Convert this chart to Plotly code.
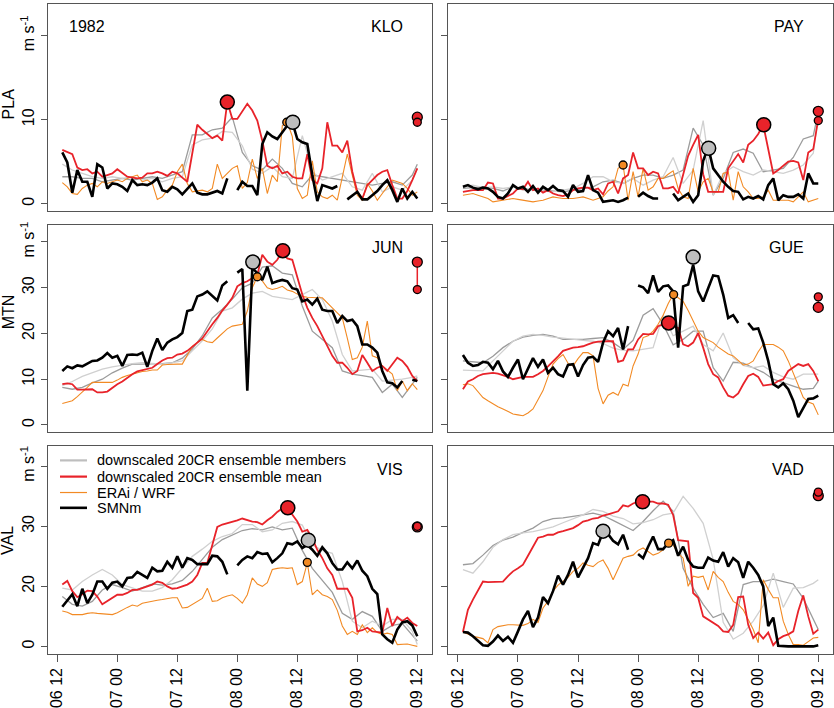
import plotly.graph_objects as go

# ── Time axis: hours after 06 12 (data run from 06 13 to 09 12) ───────────────
HOURS = list(range(1, 73))
MEMBER_HOURS = [1, 3, 5, 7, 9, 11, 13, 15, 17, 19, 21, 23, 25, 27, 29, 31, 33, 35,
                37, 39, 41, 43, 45, 47, 49, 51, 53, 55, 57, 59, 61, 63, 65, 67, 69, 71, 72]
TICK_HOURS = [0, 12, 24, 36, 48, 60, 72]
TICK_LABELS = ["06 12", "07 00", "07 12", "08 00", "08 12", "09 00", "09 12"]

ROW_NAMES = ["PLA", "MTN", "VAL"]
ROW_TICKS = [[0, 10, 20], [0, 10, 20, 30, 40], [0, 10, 20, 30]]
ROW_TICKTEXT = [["0", "10", "m s<sup>-1</sup>"],
                ["0", "10", "20", "30", "m s<sup>-1</sup>"],
                ["0", "20", "30", "m s<sup>-1</sup>"]]
ROW_RANGES = [[-0.9, 23.8], [-1.6, 43.7], [-1.2, 33.3]]

# ── KLO ───────────────────────────────────────────────────────────────────────
KLO_SMN = [6.1, 4.9, 1.3, 4.0, 2.6, 2.6, 0.8, 4.7, 4.3, 1.8,
           2.4, 2.3, 2.0, 1.5, 2.8, 2.2, 2.3, 2.2, 2.5, 3.0,
           1.6, 1.4, 2.0, 1.7, 1.1, 1.8, 2.4, 1.3, 1.1, 1.1,
           1.3, 1.5, 1.2, 3.0, None, 1.6, 2.6, 2.1, 2.1, 1.0,
           7.1, 8.5, 8.0, 7.7, 8.5, 9.3, 9.7, 7.7, 7.3, 7.1,
           3.4, 0.3, 2.2, 2.0, 1.8, 2.1, None, 0.5, 1.0, 1.4,
           0.5, 0.5, 1.0, 1.5, 2.2, 2.8, 1.6, 0.2, 1.8, 0.6,
           1.4, 0.6]
KLO_MEAN = [6.4, 6.1, 5.9, 4.3, 4.0, 4.1, 3.6, 3.8, 3.2, 3.4,
            3.6, 4.1, 3.6, 3.2, 3.1, 3.0, 3.1, 3.6, 3.6, 3.8,
            3.6, 3.3, 3.8, 3.6, 3.1, 2.6, 6.0, 9.4, 8.8, 8.3,
            7.8, 8.1, 7.5, 12.1, 10.1, 10.1, 11.0, 11.9, 11.1, 9.9,
            7.5, 4.5, 4.2, 4.5, 3.6, 3.8, 3.2, 3.0, 3.0, 5.9,
            2.8, 2.4, 4.2, 9.7, 6.9, 6.9, 6.1, 7.5, 3.8, 1.4,
            0.6, 2.2, 2.8, 3.4, 3.8, 4.0, 2.2, 0.6, 0.6, 1.5,
            2.8, 4.2]
KLO_ERA = [2.5, 2.0, 1.2, 1.1, 1.8, 2.2, 2.4, 2.0, 2.6, 2.4,
           2.6, 2.8, 2.6, 3.0, 3.2, 3.4, 2.6, 2.8, 2.4, 0.5,
           0.8, 1.6, 2.2, 3.8, 4.7, 2.4, 1.4, 1.5, 1.6, 1.4,
           1.8, 4.7, 3.0, 3.6, 4.2, 4.5, 1.8, 2.5, 5.3, 3.0,
           4.2, 1.2, 3.4, 2.6, 9.3, 9.7, 8.0, 1.8, 0.6, 1.0,
           5.1, 1.4, 0.8, 0.6, 1.0, 0.4, 3.0, 5.9, 3.4, 1.0,
           0.4, 2.4, 1.5, 0.4, 1.2, 2.0, 2.8, 2.6, 2.4, 1.8,
           1.0, 1.4]
KLO_MEM1 = [3.2, 3.2, 3.0, 3.0, 2.6, 2.8, 3.0, 2.8, 3.0, 3.2, 3.0, 3.4, 3.8, 8.2, 8.2, 8.8, 9.0,
            10.3, 6.1, 4.5, 4.0, 5.3, 4.2, 2.4, 2.0, 3.4, 3.2, 3.0, 2.8, 2.6, 2.4, 2.2, 2.4,
            2.6, 2.2, 3.4, 4.7]
KLO_MEM2 = [4.7, 4.0, 3.6, 3.2, 3.0, 3.2, 3.0, 3.2, 2.8, 3.0, 2.6, 3.0, 3.2, 7.0, 7.6, 7.8, 8.6,
            8.5, 6.9, 4.1, 3.6, 4.4, 3.2, 3.0, 8.1, 3.8, 2.8, 3.2, 3.6, 2.0, 1.6, 3.6, 1.4,
            2.0, 1.6, 2.8, 4.2]
KLO_MEAN_MAX = (34, 12.1)
KLO_SMN_MAX = (47.1, 9.7)
KLO_ERA_MAX = (45.9, 9.7)
KLO_END = [10.3, 9.7]

# ── PAY ───────────────────────────────────────────────────────────────────────
PAY_SMN = [2.0, 2.2, 1.9, 1.7, 1.9, 1.8, 1.4, 0.8, 0.6, 1.2,
           2.2, 1.8, 2.0, 1.4, 2.1, 1.3, 2.0, 1.6, 2.1, 1.6,
           1.5, 0.8, 2.2, 1.4, 1.5, 3.4, 1.6, 1.3, 0.2, 0.3,
           0.4, 0.2, 0.4, 0.7, None, 0.8, 1.3, 0.9, 0.6, 0.6,
           None, None, 1.2, 0.4, 0.8, 1.2, 0.2, 1.0, 5.1, 6.7,
           4.2, 3.4, 2.6, 2.0, 1.5, 1.4, 0.5, 0.8, 0.6, 0.9,
           0.5, 2.2, 3.0, 0.4, 1.0, 0.8, 0.8, 1.1, 0.6, 3.6,
           2.4, 2.4]
PAY_MEAN = [1.4, 1.5, 1.6, 1.6, 1.6, 2.5, 2.4, 0.6, 0.6, 0.9,
            1.2, 1.8, 1.7, 2.6, 1.6, 1.8, 1.3, 1.6, 1.2, 1.0,
            0.9, 1.1, 1.6, 1.8, 1.9, 1.9, 1.6, 1.8, 1.1, 2.4,
            2.6, 1.2, 3.0, 3.4, 6.1, 4.2, 4.2, 3.4, 3.8, 3.6,
            1.8, 1.8, 2.0, 1.2, 3.5, 5.7, 7.0, 8.2, 3.5, 1.4,
            1.4, 1.4, 1.4, 4.2, 5.1, 5.9, 4.9, 7.0, 7.5, 8.3,
            9.4, 6.5, 3.6, 4.0, 4.5, 5.0, 5.1, 4.9, 2.8, 6.1,
            6.5, 10.1]
PAY_ERA = [1.0, 1.1, 1.2, 1.0, 0.8, 0.6, 0.2, 0.3, 0.4, 0.5,
           0.6, 0.5, 0.4, 0.3, 0.2, 0.3, 0.4, 0.6, 0.8, 0.7,
           0.6, 0.6, 0.6, 0.7, 0.8, 0.6, 0.4, 0.6, 0.8, 1.5,
           2.0, 4.2, 4.6, 0.4, 3.8, 0.8, 4.2, 1.6, 2.0, 3.0,
           3.0, 3.5, 3.9, 1.8, 0.8, 0.6, 4.2, 1.4, 2.6, 3.0,
           1.4, 1.4, 3.6, 3.8, 0.4, 3.8, 2.0, 1.4, 0.6, 0.6,
           0.8, 1.6, 0.4, 0.4, 0.4, 0.4, 0.2, 0.8, 1.4, 0.2,
           0.4, 0.6]
PAY_MEM1 = [1.8, 1.9, 2.0, 1.8, 1.5, 2.0, 1.8, 1.6, 1.6, 1.5, 1.4, 1.6, 1.8, 2.0, 2.6, 2.8, 2.4,
            3.0, 3.4, 3.4, 3.0, 3.4, 4.0, 9.0, 7.0, 1.0, 3.0, 6.1, 6.5, 6.0, 3.8, 4.0, 4.2,
            5.5, 7.7, 8.1, 10.9]
PAY_MEM2 = [2.0, 2.2, 1.9, 2.0, 1.8, 2.0, 1.6, 1.8, 1.5, 1.4, 1.6, 1.8, 2.4, 3.2, 3.2, 2.6, 2.4,
            3.0, 2.2, 2.8, 3.2, 5.5, 2.4, 4.0, 9.9, 1.0, 3.6, 4.4, 3.8, 3.4, 4.0, 3.8, 3.6,
            4.0, 4.6, 6.0, 10.5]
PAY_MEAN_MAX = (61.1, 9.4)
PAY_SMN_MAX = (50.1, 6.6)
PAY_ERA_MAX = (33, 4.6)
PAY_END = [11.0, 9.9]

# ── JUN ───────────────────────────────────────────────────────────────────────
JUN_SMN = [11.8, 12.8, 12.4, 13.0, 12.8, 13.4, 14.0, 14.1, 14.7, 15.7,
           14.7, 15.1, 12.9, 15.3, 15.4, 15.3, 15.8, 12.7, 16.2, 18.9,
           16.4, 18.0, 18.7, 19.2, 20.1, 24.9, 25.2, 28.1, 28.5, 29.2,
           28.1, 27.2, 30.5, 31.4, None, 33.3, 34.1, 7.5, 34.3, 33.2,
           31.7, 34.6, 31.0, 31.4, 31.7, 31.4, 29.9, 29.6, 27.0, 27.4,
           26.3, 27.6, 25.2, 24.9, 24.9, 22.3, 23.8, 22.7, 23.0, 21.6,
           17.6, 17.6, 16.9, 15.8, 11.8, 9.3, 9.1, 8.2, 9.6, None,
           9.9, 9.6]
JUN_MEAN = [8.9, 9.1, 8.9, 7.7, 7.7, 7.7, 7.8, 7.1, 7.1, 7.3,
            8.2, 8.9, 9.5, 10.4, 11.1, 11.7, 12.0, 12.2, 12.5, 13.3,
            14.1, 14.6, 14.7, 15.4, 15.6, 16.2, 17.2, 18.0, 18.9, 20.5,
            22.0, 23.4, 25.0, 26.3, 27.8, 30.3, 31.0, 31.4, 32.1, 32.8,
            37.2, 35.7, 35.0, 36.1, 38.0, 36.4, 36.1, 32.1, 28.5, 25.6,
            23.4, 21.6, 19.4, 17.2, 15.1, 13.6, 13.6, 12.5, 11.1, 11.8,
            15.3, 13.6, 11.8, 12.5, 12.9, 11.8, 13.3, 14.7, 14.0, 12.7,
            10.7, 9.6]
JUN_ERA = [4.7, 5.0, 5.3, 6.2, 7.1, 8.2, 9.3, 9.3, 9.3, 9.3,
           9.3, 9.8, 10.4, 10.8, 11.1, 11.4, 11.7, 11.8, 12.0, 12.0,
           13.1, 13.2, 13.3, 13.3, 13.3, 15.3, 17.2, 18.0, 18.7, 18.2,
           18.0, 19.0, 20.1, 21.0, 21.6, 21.8, 22.0, 24.9, 30.0, 32.4,
           31.5, 30.0, 29.6, 29.9, 30.3, 29.5, 29.2, 28.6, 28.1, 27.9,
           27.8, 27.8, 27.8, 26.8, 25.6, 24.5, 23.4, 19.0, 14.3, 14.7,
           17.0, 22.7, 15.1, 14.7, 12.9, 12.0, 11.1, 7.5, 9.6, 7.5,
           9.0, 7.7]
JUN_MEM1 = [8.2, 7.8, 8.2, 9.2, 10.0, 11.4, 12.4, 13.3, 13.3, 13.3, 13.4, 13.6, 14.6, 16.6, 19.5,
            23.4, 25.3, 27.5, 30.0, 31.0, 34.5, 34.8, 33.2, 32.8, 26.0, 20.5, 18.7, 16.9, 11.8,
            11.1, 10.8, 10.4, 7.1, 8.9, 6.0, 8.9, 10.4]
JUN_MEM2 = [8.6, 9.5, 10.6, 11.4, 12.2, 12.7, 13.1, 13.4, 13.6, 13.5, 13.3, 13.6, 14.0, 16.2, 18.4,
            21.0, 24.9, 25.6, 27.5, 28.8, 29.2, 28.1, 27.8, 27.4, 28.5, 29.6, 27.4, 22.7, 15.4,
            11.8, 12.0, 12.2, 9.6, 9.8, 10.0, 10.4, 10.7]
JUN_MEAN_MAX = (45.1, 38.1)
JUN_SMN_MAX = (39.1, 35.6)
JUN_ERA_MAX = (40, 32.4)
JUN_END = [35.6, 29.6]

# ── GUE ───────────────────────────────────────────────────────────────────────
GUE_SMN = [15.3, 13.6, 12.9, 13.1, 13.8, 13.6, 12.2, 14.0, 11.7, 10.5,
           12.5, 14.3, 10.0, 12.5, 14.6, 12.7, 14.3, 11.4, 12.5, 11.1,
           10.6, 13.1, 13.3, 10.6, 13.1, 14.7, 14.9, 13.8, 18.0, 20.5,
           19.4, 21.2, 16.5, 21.6, None, 30.5, 30.1, 28.8, 32.7, 29.1,
           30.3, 30.5, 29.2, 16.9, 30.3, 30.7, 35.0, 29.2, 27.0, 29.9,
           32.7, 32.5, 28.5, 23.4, 24.0, 22.3, None, 22.3, 20.9, 21.1,
           18.0, 14.0, 8.9, 8.2, 9.1, 7.8, 5.3, 1.7, 3.7, 5.7,
           5.8, 6.4]
GUE_MEAN = [7.8, 9.5, 10.0, 10.7, 11.1, 11.3, 11.4, 11.2, 10.9, 10.5,
            10.0, 10.2, 10.5, 10.5, 10.5, 11.1, 11.8, 12.8, 13.8, 15.0,
            16.2, 16.6, 16.9, 17.0, 17.2, 17.6, 18.0, 18.2, 18.3, 18.3,
            18.3, 13.8, 14.1, 16.5, 16.5, 18.7, 19.9, 19.8, 19.9, 21.6,
            22.0, 22.3, 21.6, 21.2, 17.6, 17.2, 18.0, 20.1, 16.9, 13.3,
            11.1, 10.4, 8.2, 6.4, 6.0, 6.9, 8.9, 10.7, 11.2, 10.5,
            8.6, 8.8, 8.9, 9.6, 10.0, 11.8, 12.5, 13.3, 12.9, 13.3,
            11.8, 9.6]
GUE_ERA = [8.8, 9.0, 8.6, 7.3, 6.0, 5.3, 4.6, 4.0, 3.5, 3.0,
           2.4, 2.2, 2.0, 2.6, 3.5, 5.5, 7.5, 10.5, 13.3, 14.5,
           15.4, 13.5, 12.9, 14.5, 15.8, 15.8, 15.1, 8.0, 4.6, 6.5,
           7.1, 6.5, 8.9, 8.5, 12.9, 15.5, 19.1, 19.5, 20.5, 22.0,
           24.0, 26.5, 28.5, 27.8, 27.0, 25.0, 22.7, 20.5, 19.1, 18.5,
           18.0, 17.0, 16.2, 15.5, 15.1, 14.0, 13.1, 13.3, 14.0, 16.0,
           17.6, 17.6, 17.6, 17.0, 16.2, 14.0, 11.4, 8.5, 6.0, 5.0,
           4.6, 2.2]
GUE_MEM1 = [14.0, 13.8, 13.6, 15.0, 16.9, 18.3, 19.2, 19.6, 19.8, 19.4, 18.7, 18.7, 18.7, 18.9,
            19.1, 18.0, 16.5, 18.5, 24.0, 25.4, 22.0, 17.5, 18.7, 20.5, 20.5, 12.5, 9.6, 13.7,
            13.5, 12.5, 11.5, 10.0, 9.2, 8.5, 7.8, 8.0, 9.6]
GUE_MEM2 = [12.0, 11.9, 11.8, 14.0, 16.2, 18.3, 19.4, 19.8, 19.6, 19.2, 19.0, 18.7, 18.5, 18.3,
            17.8, 16.8, 16.3, 16.2, 16.5, 16.9, 24.0, 19.5, 20.5, 21.6, 17.6, 16.2, 20.1, 14.7,
            13.0, 12.5, 12.9, 11.5, 10.5, 10.0, 11.1, 11.1, 11.1]
GUE_MEAN_MAX = (42.1, 22.3)
GUE_SMN_MAX = (47, 36.7)
GUE_ERA_MAX = (43.1, 28.5)
GUE_END = [25.7, 28.0]

# ── VIS ───────────────────────────────────────────────────────────────────────
VIS_SMN = [6.6, 7.6, 8.7, 6.7, 9.6, 7.2, 8.6, 10.8, 10.8, 9.6,
           10.6, 10.8, 10.0, 11.4, 11.5, 12.4, 11.9, 11.4, 13.1, 12.5,
           12.6, 14.1, 13.1, 15.0, 13.1, 14.7, 14.4, 13.7, 13.7, 13.7,
           15.1, 15.0, 14.1, 12.0, None, 13.5, 14.4, 15.0, 14.7, 15.7,
           15.4, 15.5, 14.0, 14.7, 15.5, 17.2, 17.0, 17.5, 16.4, 16.9,
           16.1, 15.1, 16.5, 15.5, 13.9, 12.8, 12.8, 14.0, 13.0, 14.3,
           12.6, 11.7, 9.6, 8.7, 2.0, 1.2, 0.6, 2.8, 4.0, 4.2,
           3.5, 1.7]
VIS_MEAN = [10.3, 10.9, 9.2, 8.2, 8.7, 9.3, 9.2, 8.3, 7.0, 7.5,
            8.1, 8.6, 8.6, 8.9, 9.4, 9.4, 9.7, 10.0, 10.3, 10.8,
            10.6, 10.0, 9.6, 9.7, 10.0, 10.3, 10.8, 11.9, 13.9, 13.9,
            16.9, 19.9, 20.3, 20.5, 20.8, 21.0, 21.3, 21.0, 20.8, 20.7,
            20.3, 21.0, 21.6, 22.4, 23.0, 23.1, 21.9, 20.8, 19.1, 19.4,
            18.0, 16.1, 14.7, 13.0, 11.9, 9.6, 9.6, 9.6, 8.1, 2.5,
            2.7, 3.1, 2.5, 2.4, 2.3, 6.4, 3.4, 4.9, 4.2, 4.8,
            3.9, 3.4]
VIS_ERA = [5.9, 5.7, 5.3, 5.3, 5.3, 5.5, 5.6, 5.5, 5.4, 5.3,
           5.3, 5.6, 6.1, 6.5, 6.9, 6.7, 7.2, 7.4, 7.5, 7.7,
           7.8, 8.0, 8.1, 8.1, 6.4, 6.5, 7.0, 7.6, 8.0, 9.7,
           7.5, 7.6, 8.1, 8.4, 8.6, 8.0, 7.2, 8.6, 11.4, 10.4,
           10.0, 10.6, 12.8, 13.0, 13.1, 13.0, 13.1, 10.3, 10.8, 13.9,
           8.6, 9.4, 8.6, 8.3, 7.8, 6.0, 3.4, 2.0, 2.5, 2.0,
           3.6, 2.3, 3.1, 2.3, 2.0, 2.2, 2.0, 0.3, 0.3, 0.4,
           0.2, 0.0]
VIS_MEM1 = [8.3, 7.0, 6.7, 7.5, 9.4, 10.3, 9.8, 9.2, 9.8, 10.4, 10.2, 10.4, 11.0, 12.5, 14.5,
            16.5, 17.8, 18.6, 19.3, 19.6, 19.4, 19.9, 19.4, 19.7, 16.0, 13.0, 11.0, 9.0, 5.5,
            4.5, 5.8, 5.0, 2.5, 3.5, 3.8, 1.8, 0.9]
VIS_MEM2 = [9.7, 9.4, 10.8, 11.9, 12.8, 11.9, 10.3, 9.7, 9.2, 9.2, 9.8, 11.1, 13.0, 15.0, 16.2,
            17.5, 18.3, 18.8, 20.3, 20.3, 19.1, 19.4, 20.5, 20.8, 20.2, 16.9, 16.0, 15.5, 10.8,
            4.2, 3.1, 4.2, 3.4, 4.5, 4.5, 2.5, 0.3]
VIS_MEAN_MAX = (46.1, 23.1)
VIS_SMN_MAX = (50.2, 17.7)
VIS_ERA_MAX = (50, 14.0)
VIS_END = [19.9, 20.0]

# ── VAD ───────────────────────────────────────────────────────────────────────
VAD_SMN = [2.4, 2.3, 1.7, 0.9, 0.2, 0.1, 0.8, 1.8, 0.9, 1.6,
           0.6, 2.5, 4.5, 5.9, 3.2, 4.8, 8.2, 7.2, 9.2, 11.8,
           10.3, 11.9, 14.1, 11.5, 13.0, 14.7, 17.2, 16.9, 19.1, 18.7,
           17.6, 17.0, 18.6, 16.1, None, 15.4, 14.7, 16.6, 18.3, 16.2,
           16.2, 17.2, 17.7, 15.1, 16.6, 14.4, 13.3, 13.1, 13.1, 14.8,
           14.3, 14.1, 15.7, 13.3, 14.7, 14.0, 11.4, 14.1, 13.1, 11.9,
           10.0, 3.4, 4.8, 0.1, 0.0, 0.0, 0.0, 0.0, 0.0, 0.0,
           0.0, 0.2]
VAD_MEAN = [2.4, 6.1, 7.8, 9.2, 10.8, 10.7, 10.7, 10.7, 10.8, 11.7,
            12.5, 13.0, 13.6, 15.1, 16.6, 18.1, 18.3, 18.6, 18.6, 19.0,
            19.2, 19.4, 19.7, 20.2, 20.8, 21.0, 21.3, 21.4, 21.8, 22.0,
            22.3, 22.5, 23.5, 23.3, 23.8, 24.1, 24.1, 24.1, 24.1, 23.8,
            23.8, 23.6, 21.9, 17.7, 17.6, 17.5, 8.9, 8.1, 5.0, 4.5,
            3.9, 3.4, 2.5, 2.4, 3.6, 8.2, 8.3, 3.6, 1.4, 2.3,
            1.3, 2.3, 0.2, 1.2, 1.7, 2.0, 2.5, 5.9, 8.5, 5.0,
            2.1, 2.8]
VAD_ERA = [2.4, 2.0, 1.7, 1.5, 1.3, 0.6, 2.8, 3.3, 3.5, 3.6,
           3.6, 3.6, 3.5, 3.8, 4.5, 4.0, 6.4, 7.5, 9.2, 10.2,
           10.8, 11.5, 12.5, 13.0, 13.9, 13.5, 13.3, 14.0, 14.4, 13.0,
           11.1, 13.0, 14.7, 15.0, 15.2, 16.0, 16.4, 15.8, 15.2, 15.5,
           16.1, 17.2, 16.9, 15.5, 14.7, 10.0, 11.7, 11.5, 11.7, 9.4,
           12.5, 11.5, 10.8, 9.0, 7.5, 7.0, 6.1, 4.5, 2.8, 0.6,
           11.1, 9.5, 8.1, 8.1, 4.2, 2.0, 0.3, 0.3, 0.2, 0.8,
           1.4, 1.5]
VAD_MEM1 = [13.6, 13.8, 15.2, 16.8, 17.7, 18.2, 19.0, 19.7, 20.8, 21.3, 21.4, 21.6, 21.9, 22.2,
            21.8, 21.0, 20.2, 19.3, 20.8, 22.6, 24.2, 22.5, 13.0, 9.7, 7.0, 4.8, 5.5, 2.5,
            10.3, 10.8, 10.8, 11.2, 10.8, 10.4, 8.0, 4.5, 2.8]
VAD_MEM2 = [12.8, 12.2, 14.1, 16.5, 17.8, 18.6, 18.9, 19.1, 19.5, 19.9, 20.6, 21.3, 21.9, 22.8,
            22.5, 21.7, 21.3, 20.4, 20.6, 21.1, 21.9, 22.2, 25.0, 23.0, 20.5, 14.5, 4.0, 1.2,
            2.2, 4.2, 6.8, 12.2, 6.5, 9.7, 9.8, 10.5, 11.1]
VAD_MEAN_MAX = (36.9, 24.1)
VAD_SMN_MAX = (29, 19.2)
VAD_ERA_MAX = (42.1, 17.2)
VAD_END = [25.1, 25.7]

PANELS = [
    ("KLO", KLO_MEM1, KLO_MEM2, KLO_ERA, KLO_MEAN, KLO_SMN, KLO_MEAN_MAX, KLO_SMN_MAX, KLO_ERA_MAX, KLO_END),
    ("PAY", PAY_MEM1, PAY_MEM2, PAY_ERA, PAY_MEAN, PAY_SMN, PAY_MEAN_MAX, PAY_SMN_MAX, PAY_ERA_MAX, PAY_END),
    ("JUN", JUN_MEM1, JUN_MEM2, JUN_ERA, JUN_MEAN, JUN_SMN, JUN_MEAN_MAX, JUN_SMN_MAX, JUN_ERA_MAX, JUN_END),
    ("GUE", GUE_MEM1, GUE_MEM2, GUE_ERA, GUE_MEAN, GUE_SMN, GUE_MEAN_MAX, GUE_SMN_MAX, GUE_ERA_MAX, GUE_END),
    ("VIS", VIS_MEM1, VIS_MEM2, VIS_ERA, VIS_MEAN, VIS_SMN, VIS_MEAN_MAX, VIS_SMN_MAX, VIS_ERA_MAX, VIS_END),
    ("VAD", VAD_MEM1, VAD_MEM2, VAD_ERA, VAD_MEAN, VAD_SMN, VAD_MEAN_MAX, VAD_SMN_MAX, VAD_ERA_MAX, VAD_END),
]

# ── Styling ───────────────────────────────────────────────────────────────────
RED = "#E8232A"
ORANGE = "#F28A24"
GREY_DARK = "#9C9C9C"
GREY_LIGHT = "#D0D0D0"
GREY_MARK = "#BEBEBE"
FRAME = "#555555"
FONT = "Liberation Sans, Arial, sans-serif"

W, H = 834, 708
COL_X = [(47.7, 432.0), (448.3, 833.0)]
ROW_Y = [(1.0, 209.3), (223.3, 431.7), (446.0, 654.3)]
X_RANGE = [-1.92, 74.94]


def px(x):
    return x / W


def py(y):
    return 1 - y / H


fig = go.Figure()
layout = dict(
    width=W, height=H,
    margin=dict(l=0, r=0, t=0, b=0),
    paper_bgcolor="white", plot_bgcolor="white",
    font=dict(family=FONT, size=16, color="black"),
    showlegend=False,
)
annotations = []
shapes = []

for i, (name, mem1, mem2, era, mean, smn, mean_max, smn_max, era_max, end) in enumerate(PANELS):
    r, c = divmod(i, 2)
    n = i + 1
    xn = "x" if n == 1 else f"x{n}"
    yn = "y" if n == 1 else f"y{n}"
    x0, x1 = COL_X[c]
    y0, y1 = ROW_Y[r]

    layout["xaxis" if n == 1 else f"xaxis{n}"] = dict(
        domain=[px(x0), px(x1)], range=X_RANGE, anchor=yn,
        showline=True, mirror=True, linecolor=FRAME, linewidth=1,
        showgrid=False, zeroline=False,
        tickvals=TICK_HOURS, ticktext=TICK_LABELS,
        ticks="outside" if r == 2 else "", ticklen=7, tickcolor=FRAME,
        showticklabels=(r == 2), tickangle=-90,
        tickfont=dict(size=16, family=FONT),
    )
    layout["yaxis" if n == 1 else f"yaxis{n}"] = dict(
        domain=[py(y1), py(y0)], range=ROW_RANGES[r], anchor=xn,
        showline=True, mirror=True, linecolor=FRAME, linewidth=1,
        showgrid=False, zeroline=False,
        tickvals=ROW_TICKS[r], ticktext=ROW_TICKTEXT[r],
        ticks="outside", ticklen=6, tickcolor=FRAME,
        showticklabels=(c == 0), tickangle=-90,
        tickfont=dict(size=16, family=FONT),
    )

    common = dict(xaxis=xn, yaxis=yn, hoverinfo="skip")
    fig.add_trace(go.Scatter(x=MEMBER_HOURS, y=mem1, mode="lines",
                             line=dict(color=GREY_DARK, width=1.3), **common))
    fig.add_trace(go.Scatter(x=MEMBER_HOURS, y=mem2, mode="lines",
                             line=dict(color=GREY_LIGHT, width=1.3), **common))
    fig.add_trace(go.Scatter(x=HOURS, y=era, mode="lines",
                             line=dict(color=ORANGE, width=1.1), **common))
    fig.add_trace(go.Scatter(x=HOURS, y=mean, mode="lines",
                             line=dict(color=RED, width=1.8), **common))
    fig.add_trace(go.Scatter(x=HOURS, y=smn, mode="lines",
                             line=dict(color="black", width=2.6), **common))

    # peak markers
    fig.add_trace(go.Scatter(x=[era_max[0]], y=[era_max[1]], mode="markers",
                             marker=dict(size=8, color=ORANGE, line=dict(color="black", width=1.3)),
                             **common))
    fig.add_trace(go.Scatter(x=[smn_max[0]], y=[smn_max[1]], mode="markers",
                             marker=dict(size=14, color=GREY_MARK, line=dict(color="black", width=1.5)),
                             **common))
    fig.add_trace(go.Scatter(x=[mean_max[0]], y=[mean_max[1]], mode="markers",
                             marker=dict(size=14, color=RED, line=dict(color="black", width=1.5)),
                             **common))

    # values at the end of the period
    fig.add_trace(go.Scatter(x=[72, 72], y=end, mode="lines",
                             line=dict(color=RED, width=1.5), **common))
    fig.add_trace(go.Scatter(x=[72, 72], y=end, mode="markers",
                             marker=dict(size=[10, 8], color=RED, opacity=1,
                                         line=dict(color="black", width=1.3)),
                             **common))

    annotations.append(dict(
        text=name, xref="paper", yref="paper", x=px(x1 - 27), y=py(y0 + 23),
        xanchor="right", yanchor="middle", showarrow=False, font=dict(size=16),
    ))

# row labels
for r, (label, yc) in enumerate(zip(ROW_NAMES, [102, 311, 541])):
    annotations.append(dict(
        text=label, xref="paper", yref="paper", x=px(8), y=py(yc),
        xanchor="center", yanchor="middle", textangle=-90, showarrow=False,
        font=dict(size=16),
    ))

annotations.append(dict(
    text="1982", xref="paper", yref="paper", x=px(66.5), y=py(24),
    xanchor="left", yanchor="middle", showarrow=False, font=dict(size=16),
))

# legend (inside the VIS panel)
LEGEND_ITEMS = [
    ("downscaled 20CR ensemble members", GREY_MARK, 2.2),
    ("downscaled 20CR ensemble mean", RED, 2.2),
    ("ERAi / WRF", ORANGE, 1.2),
    ("SMNm", "black", 2.6),
]
for (label, color, width), yl in zip(LEGEND_ITEMS, [460.0, 476.3, 492.3, 507.7]):
    shapes.append(dict(type="line", xref="paper", yref="paper",
                       x0=px(60), x1=px(87), y0=py(yl), y1=py(yl),
                       line=dict(color=color, width=width)))
    annotations.append(dict(
        text=label, xref="paper", yref="paper", x=px(95), y=py(yl),
        xanchor="left", yanchor="middle", showarrow=False, font=dict(size=14.5),
    ))

layout["annotations"] = annotations
layout["shapes"] = shapes
fig.update_layout(**layout)

# the page's default body margin would shift the figure by 8 px
fig.write_html("out.html", config={"displayModeBar": False},
               post_script="document.body.style.margin = '0';")
